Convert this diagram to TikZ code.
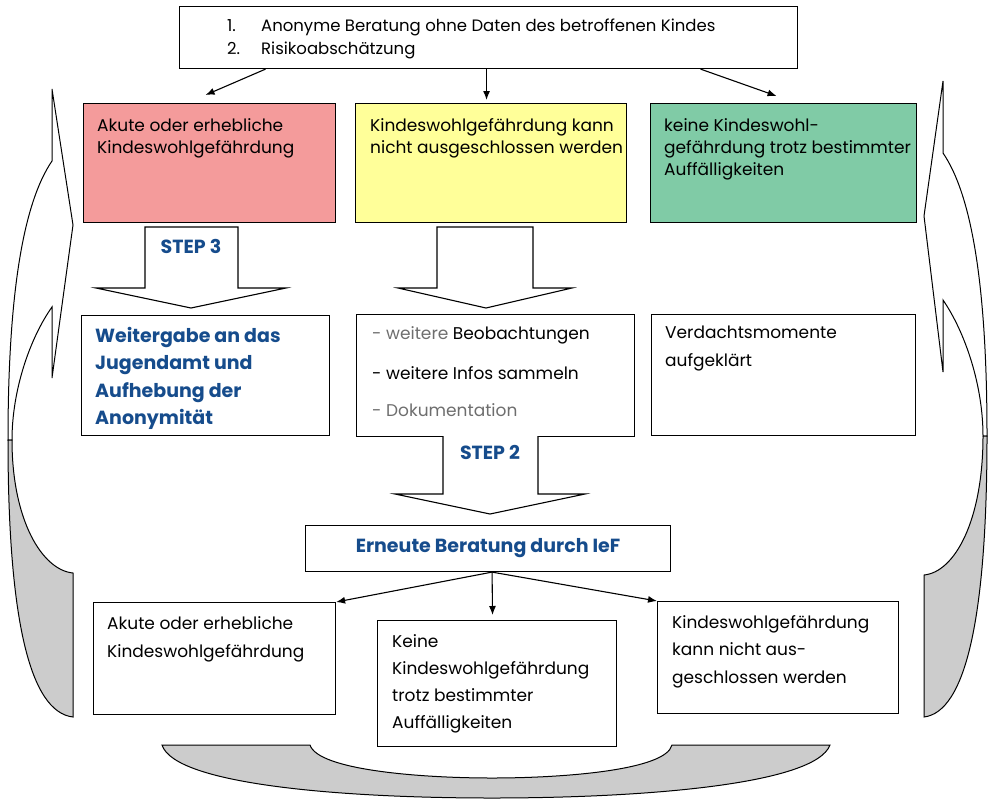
\documentclass[tikz,border=0pt]{standalone}
\usepackage{fontspec}
\setmainfont{Poppins}
\usepackage{xcolor}
\usetikzlibrary{arrows.meta,positioning,calc}

\begin{document}
\begin{tikzpicture}[x=1pt,y=-1pt,>={Latex[length=9pt,width=7pt]},
    box/.style={draw,line width=1.1pt,inner sep=0pt,anchor=north west},
    txt/.style={inner sep=0pt,anchor=north west,align=left,font=\fontsize{17}{22}\selectfont},
    blau/.style={inner sep=0pt,anchor=north west,align=left,text=cBlau,font=\bfseries\fontsize{19}{27.5}\selectfont},
    pfeil/.style={draw,line width=1.1pt,fill=white,line join=miter},
    bogen/.style={draw,line width=1pt,line join=miter},
    verb/.style={->,line width=1.1pt}]
    \definecolor{cRot}{RGB}{244,155,155}\definecolor{cGelb}{RGB}{255,255,153}
    \definecolor{cGruen}{RGB}{128,203,166}\definecolor{cBlau}{RGB}{22,76,140}
    \definecolor{cGrau}{RGB}{204,204,204}\definecolor{cText}{RGB}{110,110,110}
    \useasboundingbox (0,0) rectangle (990,801);
    % ---------- curved arrows at the sides ----------
    \draw[bogen,fill=white] (52,89) -- (52,161) .. controls (22,205) and (8,300) .. (8,440) -- (12,440)
      .. controls (12,390) and (30,338) .. (52,307) -- (52,378) -- (73,225) -- cycle;
    \draw[bogen,fill=cGrau] (8,440) .. controls (8,620) and (30,712) .. (73,717) -- (73,573)
      .. controls (42,570) and (12,520) .. (12,440) -- cycle;
    \draw[bogen,fill=white] (943,81) -- (943,153) .. controls (973,197) and (987,292) .. (987,436) -- (983,436)
      .. controls (983,385) and (965,332) .. (943,300) -- (943,372) -- (924,216) -- cycle;
    \draw[bogen,fill=cGrau] (987,436) .. controls (987,620) and (965,712) .. (924,717) -- (924,575)
      .. controls (955,572) and (983,520) .. (983,436) -- cycle;
    \draw[bogen,fill=cGrau] (162,745) -- (310,745) .. controls (318,770) and (420,778) .. (492,778)
      .. controls (565,778) and (666,770) .. (672,745) -- (830,745) .. controls (815,785) and (640,798) .. (492,798)
      .. controls (345,798) and (175,785) .. (162,745) -- cycle;
    % ---------- top ----------
    \node[box,minimum width=618,minimum height=62] (start) at (179,6) {};
    \node[txt,font=\fontsize{16.5}{23}\selectfont] (startT) at ([shift={(48,13)}]start.north west)
      {\makebox[34pt][l]{1.}Anonyme Beratung ohne Daten des betroffenen Kindes\\
       \makebox[34pt][l]{2.}Risikoabschätzung};
    \node[box,fill=cRot,minimum width=252,minimum height=119] (akut) at (83,103) {};
    \node[txt] (akutT) at ([shift={(14,15)}]akut.north west) {Akute oder erhebliche\\Kindeswohlgefährdung};
    \node[box,fill=cGelb,minimum width=271,minimum height=119] (offen) at (355,103) {};
    \node[txt] (offenT) at ([shift={(15,15)}]offen.north west) {Kindeswohlgefährdung kann\\nicht ausgeschlossen werden};
    \node[box,fill=cGruen,minimum width=266,minimum height=119] (keine) at (650,103) {};
    \node[txt] (keineT) at ([shift={(14,15)}]keine.north west) {keine Kindeswohl-\\gefährdung trotz bestimmter\\Auffälligkeiten};
    \draw[verb] ([xshift=-223pt]start.south) -- ([xshift=-4pt,yshift=8pt]akut.north);
    \draw[verb] ([xshift=-2pt]start.south) -- ([xshift=-4.5pt,yshift=3pt]offen.north);
    \draw[verb] ([xshift=212pt]start.south) -- ([xshift=-7pt,yshift=7pt]keine.north);
    % ---------- block arrows ----------
    \draw[pfeil] (145,227) -- (238,227) -- (238,288) -- (286,288) -- (191,308) -- (96,288) -- (145,288) -- cycle;
    \node[blau,anchor=center] (step3) at (191,246) {STEP 3};
    \draw[pfeil] (437,227) -- (533,227) -- (533,288) -- (572,288) -- (486,308) -- (398,288) -- (437,288) -- cycle;
    % ---------- middle row ----------
    \node[box,minimum width=248,minimum height=120] (weiter) at (81,315) {};
    \node[blau] (weiterT) at ([shift={(14,12)}]weiter.north west) {Weitergabe an das\\Jugendamt und\\Aufhebung der\\Anonymität};
    \node[box,minimum width=278,minimum height=122] (beob) at (356,314) {};
    \node[txt,font=\fontsize{17}{24}\selectfont] (beobT) at ([shift={(16,12)}]beob.north west)
      {{\color{cText}- weitere} Beobachtungen\\[16pt]- weitere Infos sammeln\\[13pt]{\color{cText}- Dokumentation}};
    \node[box,minimum width=264,minimum height=121] (klar) at (651,314) {};
    \node[txt,font=\fontsize{17}{28}\selectfont] (klarT) at ([shift={(14,12)}]klar.north west) {Verdachtsmomente\\aufgeklärt};
    \draw[pfeil] (443,436) -- (443,494) -- (395,494) -- (490,514) -- (585,494) -- (538,494) -- (538,436);
    \node[blau,anchor=center] (step2) at (490,452) {STEP 2};
    % ---------- second counselling ----------
    \node[box,minimum width=365,minimum height=46] (erneut) at (305,525) {};
    \node[blau,anchor=center] (erneutT) at (erneut.center) {Erneute Beratung durch IeF};
    \node[box,minimum width=242,minimum height=112] (akut2) at (93,602) {};
    \node[txt,font=\fontsize{17}{28}\selectfont] (akut2T) at ([shift={(14,14)}]akut2.north west) {Akute oder erhebliche\\Kindeswohlgefährdung};
    \node[box,minimum width=239,minimum height=126] (keine2) at (377,620) {};
    \node[txt,font=\fontsize{17}{27}\selectfont] (keine2T) at ([shift={(15,14)}]keine2.north west) {Keine\\Kindeswohlgefährdung\\trotz bestimmter\\Auffälligkeiten};
    \node[box,minimum width=241,minimum height=112] (offen2) at (657,601) {};
    \node[txt,font=\fontsize{17}{27.5}\selectfont] (offen2T) at ([shift={(15,14)}]offen2.north west) {Kindeswohlgefährdung\\kann nicht aus-\\geschlossen werden};
    \draw[verb] ([xshift=4pt]erneut.south) -- (akut2.north east);
    \draw[verb] ([xshift=4pt]erneut.south) -- ([xshift=-4.5pt,yshift=5pt]keine2.north);
    \draw[verb] ([xshift=4pt]erneut.south) -- (offen2.north west);
  \end{tikzpicture}
\end{document}
